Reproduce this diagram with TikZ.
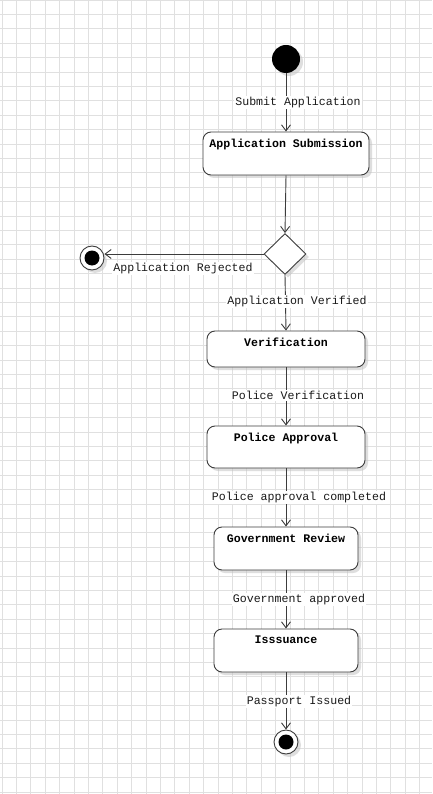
\documentclass[tikz,border=0pt]{standalone}
\usepackage{fontspec}
\setmonofont{Liberation Mono}
\usetikzlibrary{arrows.meta,shapes.geometric,shadows}
\definecolor{gridc}{HTML}{E0E0E0}
\definecolor{linec}{HTML}{3C3C3C}
\tikzset{
  every node/.style={font=\ttfamily\fontsize{11.6}{13}\selectfont},
  arr/.style={draw=linec, line width=0.9pt, -{Straight Barb[length=6pt,width=9pt]}},
  sbox/.style={draw=linec, line width=0.9pt, rounded corners=8pt, fill=white, rectangle, inner sep=0pt,
     drop shadow={shadow xshift=3pt, shadow yshift=-3pt, fill=black!25, opacity=0.5}},
  lbl/.style={fill=white, inner sep=1pt, text=black!90},
  ttl/.style={font=\ttfamily\bfseries\fontsize{11.6}{13}\selectfont},
}
\begin{document}
\begin{tikzpicture}[x=1pt,y=-1pt]
\useasboundingbox (0,0) rectangle (432,794);
\fill[white] (0,0) rectangle (432,794);
\foreach \i in {0,...,30} \draw[gridc, line width=0.7pt] ({\i*14.4+2},0) -- ({\i*14.4+2},794);
\foreach \i in {0,...,55} \draw[gridc, line width=0.7pt] (0,{\i*14.4}) -- (432,{\i*14.4});

\node[circle, fill=black, minimum size=28pt, inner sep=0pt,
  drop shadow={shadow xshift=3pt, shadow yshift=-3pt, fill=black!25, opacity=0.5}] (start) at (286,59) {};

\node[sbox, minimum width=166pt, minimum height=43pt,
  label={[ttl, anchor=north, yshift=-4pt]north:Application Submission}] (b1) at (286,153.5) {};

\node[diamond, draw=linec, line width=0.9pt, fill=white, minimum width=42pt, minimum height=41pt, inner sep=0pt,
  drop shadow={shadow xshift=3pt, shadow yshift=-3pt, fill=black!25, opacity=0.5}] (dec) at (285,254) {};

\node[circle, draw=linec, line width=0.9pt, fill=white, minimum size=24pt, inner sep=0pt,
  path picture={\fill[black] (path picture bounding box.center) circle (7.5pt);},
  drop shadow={shadow xshift=3pt, shadow yshift=-3pt, fill=black!25, opacity=0.5}] (f1) at (92,258) {};

\node[sbox, minimum width=158pt, minimum height=36pt,
  label={[ttl, anchor=north, yshift=-4pt]north:Verification}] (b2) at (286,349) {};
\node[sbox, minimum width=158pt, minimum height=42pt,
  label={[ttl, anchor=north, yshift=-4pt]north:Police Approval}] (b3) at (286,447) {};
\node[sbox, minimum width=144pt, minimum height=43pt,
  label={[ttl, anchor=north, yshift=-4pt]north:Government Review}] (b4) at (286,548.5) {};
\node[sbox, minimum width=144pt, minimum height=43pt,
  label={[ttl, anchor=north, yshift=-4pt]north:Isssuance}] (b5) at (286,650.5) {};

\node[circle, draw=linec, line width=0.9pt, fill=white, minimum size=24pt, inner sep=0pt,
  path picture={\fill[black] (path picture bounding box.center) circle (7.5pt);},
  drop shadow={shadow xshift=3pt, shadow yshift=-3pt, fill=black!25, opacity=0.5}] (f2) at (286,742) {};

\draw[arr] (start) -- (b1.north);
\draw[arr] (b1.south) -- (dec.north);
\draw[arr] (dec.west) -- (dec.west -| f1.east);
\draw[arr] (dec.south) -- (b2.north);
\draw[arr] (b2.south) -- (b3.north);
\draw[arr] (b3.south) -- (b4.north);
\draw[arr] (b4.south) -- (b5.north);
\draw[arr] (b5.south) -- (f2.north);

\node[lbl] (l1) at (298,102.5) {Submit Application};
\node[lbl] (l2) at (183,268.5) {Application Rejected};
\node[lbl] (l3) at (297,301.5) {Application Verified};
\node[lbl] (l4) at (298,395.5) {Police Verification};
\node[lbl] (l5) at (299,497.5) {Police approval completed};
\node[lbl] (l6) at (299,599.5) {Government approved};
\node[lbl] (l7) at (299,701.5) {Passport Issued};
\end{tikzpicture}
\end{document}
